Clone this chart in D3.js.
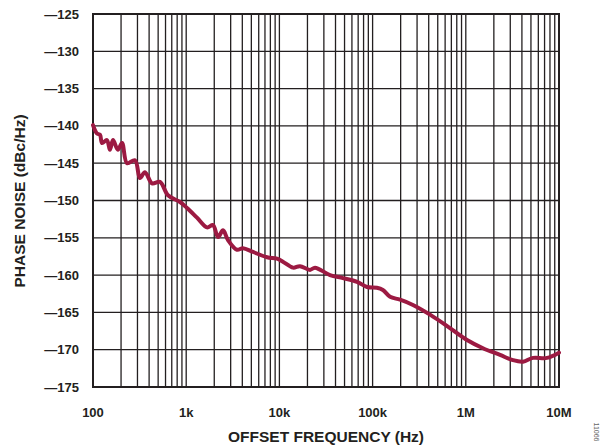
<!DOCTYPE html>
<html>
<head>
<meta charset="utf-8">
<script src="https://cdn.jsdelivr.net/npm/d3@7"></script>
<style>
  body { margin: 0; background: #fff; }
  text { font-family: "Liberation Sans", Arial, sans-serif; font-weight: bold; fill: #231f20; }
</style>
</head>
<body>
<script>
const w = 600;
const h = 446;

// frequency ticks and labels
const xTicks = [100, 1e3, 1e4, 1e5, 1e6, 1e7];
const xTickLabels = ["100", "1k", "10k", "100k", "1M", "10M"];
const yTicks = [-125, -130, -135, -140, -145, -150, -155, -160, -165, -170, -175];

const freq = [100, 110, 119, 125, 141, 152, 164, 185, 205, 232, 282, 319, 361, 430, 523, 638, 858,
  1020, 1306, 1672, 1940, 2194, 2483, 2808, 3508, 4066, 5208, 7363, 9421,
  10900, 14000, 16600, 21300, 24100, 34900, 48100, 68100, 87100,
  111000, 129000, 154000, 197000, 271000, 413000, 677000,
  1030000, 1530000, 2330000, 3210000, 4110000, 5260000, 7430000, 10000000];
const noise = [-139.9, -141.0, -141.2, -142.3, -141.9, -143.2, -141.9, -143.2, -142.3, -145.0, -144.6, -147.0, -146.2, -147.7, -147.5, -149.3, -150.2,
  -151.0, -152.3, -153.6, -153.3, -154.9, -154.0, -155.3, -156.6, -156.4, -156.9, -157.6, -157.8,
  -158.2, -159.0, -158.8, -159.3, -159.0, -160.0, -160.4, -160.9, -161.6,
  -161.7, -162.0, -162.9, -163.3, -164.0, -165.3, -167.1,
  -168.7, -169.8, -170.7, -171.4, -171.6, -171.1, -171.1, -170.4];

const margin = { left: 93, top: 14, right: 41, bottom: 59 };

const svg = d3.select("body").append("svg")
  .attr("width", w)
  .attr("height", h);

const x = d3.scaleLog()
  .domain([100, 1e7])
  .range([margin.left, w - margin.right]);

const y = d3.scaleLinear()
  .domain([-175, -125])
  .range([h - margin.bottom, margin.top]);

// minor log grid: 2..9 of each decade
const minor = [];
for (let d = 100; d < 1e7; d *= 10) {
  for (let k = 2; k <= 9; k++) minor.push(d * k);
}

const grid = svg.append("g").attr("stroke", "#231f20");

grid.selectAll(".vx")
  .data(minor.concat(xTicks))
  .enter().append("line")
  .attr("x1", d => x(d)).attr("x2", d => x(d))
  .attr("y1", y(-125)).attr("y2", y(-175))
  .attr("stroke-width", 1.3);

grid.selectAll(".hy")
  .data(yTicks)
  .enter().append("line")
  .attr("x1", x(100)).attr("x2", x(1e7))
  .attr("y1", d => y(d)).attr("y2", d => y(d))
  .attr("stroke-width", 1.3);

svg.append("rect")
  .attr("x", x(100)).attr("y", y(-125))
  .attr("width", x(1e7) - x(100))
  .attr("height", y(-175) - y(-125))
  .attr("fill", "none")
  .attr("stroke", "#231f20")
  .attr("stroke-width", 2);

// axes labels
svg.selectAll(".yl")
  .data(yTicks)
  .enter().append("text")
  .attr("x", 79)
  .attr("y", d => y(d) + 4.5)
  .attr("text-anchor", "end")
  .attr("font-size", 13)
  .text(d => "\u2014" + Math.abs(d));

svg.selectAll(".xl")
  .data(xTicks)
  .enter().append("text")
  .attr("x", d => x(d))
  .attr("y", 417)
  .attr("text-anchor", "middle")
  .attr("font-size", 13)
  .text((d, i) => xTickLabels[i]);

svg.append("text")
  .attr("x", 326)
  .attr("y", 442)
  .attr("text-anchor", "middle")
  .attr("font-size", 15.5)
  .text("OFFSET FREQUENCY (Hz)");

svg.append("text")
  .attr("transform", "translate(25,201) rotate(-90)")
  .attr("text-anchor", "middle")
  .attr("font-size", 15.5)
  .text("PHASE NOISE (dBc/Hz)");

svg.append("text")
  .attr("transform", "translate(594,432) rotate(90)")
  .attr("text-anchor", "middle")
  .attr("font-size", 7)
  .style("font-weight", "normal")
  .style("fill", "#666")
  .text("11066");

// the trace
const line = d3.line()
  .x((d, i) => x(freq[i]))
  .y(d => y(d))
  .curve(d3.curveCatmullRom);

svg.append("path")
  .datum(noise)
  .attr("d", line)
  .attr("fill", "none")
  .attr("stroke", "#9c1a42")
  .attr("stroke-width", 4)
  .attr("stroke-linejoin", "round")
  .attr("stroke-linecap", "round");
</script>
</body>
</html>
